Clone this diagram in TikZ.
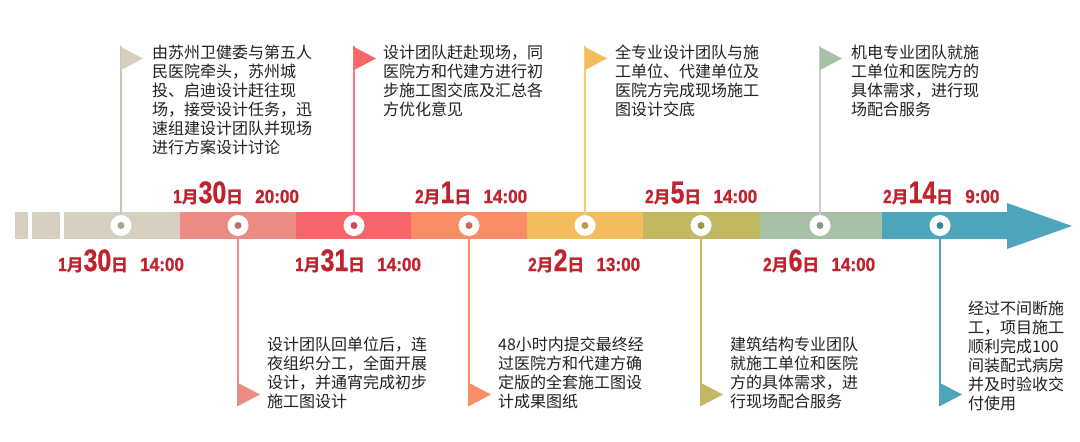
\documentclass[tikz,border=0pt]{standalone}
\usepackage{fontspec}
\setmainfont{Liberation Sans}
\newfontfamily\cjk{Noto Sans CJK SC}
\newfontfamily\datefont[FakeStretch=0.8, BoldFeatures={FakeBold=0.8}]{Liberation Sans}
\newfontfamily\timefont[FakeStretch=0.9, BoldFeatures={FakeBold=1.2}]{Liberation Sans}
\usetikzlibrary{positioning}
\definecolor{segA}{HTML}{D6CFBF}
\definecolor{segB}{HTML}{EC8B83}
\definecolor{segC}{HTML}{F8666B}
\definecolor{segD}{HTML}{FA8D66}
\definecolor{segE}{HTML}{F4BD5C}
\definecolor{segF}{HTML}{C3B862}
\definecolor{segG}{HTML}{A8C0A5}
\definecolor{segH}{HTML}{4EA5BA}
\definecolor{datered}{HTML}{C0232E}
\definecolor{txtgray}{HTML}{231F20}

% date label: small day, big number, time
\newcommand{\tldate}[3]{%
  {\fontsize{19}{19}\selectfont #1}%
  {\cjk\fontsize{17}{17}\selectfont 月}%
  {\fontsize{31}{31}\selectfont #2}%
  {\cjk\fontsize{17}{17}\selectfont 日}%
  \hspace{12pt}{\timefont\bfseries\fontsize{19}{19}\selectfont #3}}

\begin{document}
\begin{tikzpicture}[
    x=1pt, y=-1pt,
    pole/.style={line width=1.6pt},
    datelbl/.style={font=\datefont\bfseries, text=datered, inner sep=0pt, anchor=base west},
    desc/.style={font=\cjk\fontsize{16}{19}\selectfont, text=txtgray, align=left, inner sep=0pt}
]
\useasboundingbox (0,0) rectangle (1080,442);

% Draw the bar
\fill[segA] (15,212) rectangle (28,239);
\fill[segA] (32,212) rectangle (60,239);
\foreach \xa/\xb/\c in {64/180/segA, 180/296/segB, 296/411/segC, 411/527/segD,
                       527/643/segE, 643/760/segF, 760/882/segG} {
    \fill[\c] (\xa,212) rectangle (\xb,239);
}
\fill[segH] (882,212) -- (1007,212) -- (1007,203) -- (1072,226)
    -- (1007,249) -- (1007,239) -- (882,239) -- cycle;

% Flags above the bar
\foreach \i/\x/\pc/\fc in {1/121/segA!95!black/segA, 2/354/segC!90!white/segC,
                          3/585/segE!80!white/segE, 4/820/segG!80!gray!60!white/segG} {
    \coordinate (m\i) at (\x,225.5);
    \coordinate (p\i) at (\x,46);
    \draw[pole, \pc] (m\i) -- (p\i);
    \fill[\fc] (\x,47) -- ({\x+22},58.5) -- (\x,70) -- cycle;
}

% Flags below the bar
\foreach \i/\x/\pc/\fc in {5/238/segB/segB, 6/469/segD/segD,
                          7/701/segF/segF, 8/940/segH/segH} {
    \coordinate (m\i) at (\x,225.5);
    \coordinate (p\i) at (\x,406);
    \draw[pole, \pc] (m\i) -- (p\i);
    \fill[\fc] (\x,383) -- ({\x+22},394.5) -- (\x,406) -- cycle;
}

% Marks on the bar
\foreach \i/\c in {1/segA, 5/segB, 2/segC, 6/segD, 3/segE, 7/segF, 4/segG, 8/segH} {
    \fill[white] (m\i) circle (10.5pt);
    \fill[\c!80!black] (m\i) circle (3.5pt);
}

% Dates
\node[datelbl] (d1) at (58,271)  {\tldate{1}{30}{14:00}};
\node[datelbl] (d2) at (173,203) {\tldate{1}{30}{20:00}};
\node[datelbl] (d3) at (295,271) {\tldate{1}{31}{14:00}};
\node[datelbl] (d4) at (415,203) {\tldate{2}{1}{14:00}};
\node[datelbl] (d5) at (528,271) {\tldate{2}{2}{13:00}};
\node[datelbl] (d6) at (645,203) {\tldate{2}{5}{14:00}};
\node[datelbl] (d7) at (763,271) {\tldate{2}{6}{14:00}};
\node[datelbl] (d8) at (883,203) {\tldate{2}{14}{9:00}};

% Descriptions above
\node[desc, anchor=north west] (e1) at (152,45) {由苏州卫健委与第五人\\民医院牵头，苏州城\\投、启迪设计赶往现\\场，接受设计任务，迅\\速组建设计团队并现场\\进行方案设计讨论};
\node[desc, anchor=north west] (e2) at (383,45) {设计团队赶赴现场，同\\医院方和代建方进行初\\步施工图交底及汇总各\\方优化意见};
\node[desc, anchor=north west] (e3) at (615,45) {全专业设计团队与施\\工单位、代建单位及\\医院方完成现场施工\\图设计交底};
\node[desc, anchor=north west] (e4) at (851,45) {机电专业团队就施\\工单位和医院方的\\具体需求，进行现\\场配合服务};

% Descriptions below
\node[desc, anchor=south west] (e5) at (267,409) {设计团队回单位后，连\\夜组织分工，全面开展\\设计，并通宵完成初步\\施工图设计};
\node[desc, anchor=south west] (e6) at (498,409) {48小时内提交最终经\\过医院方和代建方确\\定版的全套施工图设\\计成果图纸};
\node[desc, anchor=south west] (e7) at (730,409) {建筑结构专业团队\\就施工单位和医院\\方的具体需求，进\\行现场配合服务};
\node[desc, anchor=south west] (e8) at (968,411) {经过不间断施\\工，项目施工\\顺利完成100\\间装配式病房\\并及时验收交\\付使用};

\end{tikzpicture}
\end{document}
